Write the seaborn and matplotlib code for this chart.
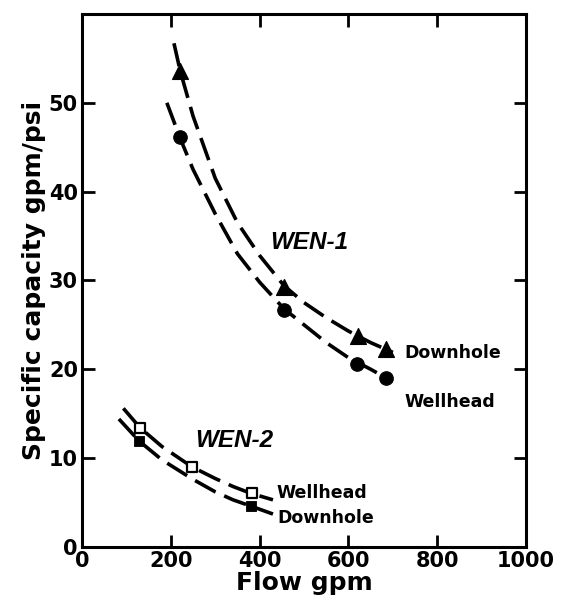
import pandas as pd
import matplotlib.pyplot as plt
import seaborn as sns

wen1_down_x = [221, 455, 622, 685]
wen1_down_y = [53.6, 29.3, 23.8, 22.3]
wen1_well_x = [221, 455, 620, 685]
wen1_well_y = [46.1, 26.7, 20.6, 19.0]
wen2_well_x = [131, 248, 382]
wen2_well_y = [13.4, 9.0, 6.1]
wen2_down_x = [129, 380]
wen2_down_y = [11.9, 4.6]

# hand-drawn fitted curves, read at several flows
c1_down_x = [207, 221, 250, 300, 350, 400, 455, 500, 550, 600, 650, 700]
c1_down_y = [56.7, 53.6, 48.5, 41.5, 36.5, 32.8, 29.4, 27.5, 25.8, 24.3, 23.0, 21.9]
c1_well_x = [191, 221, 250, 300, 350, 400, 455, 500, 550, 600, 650, 700]
c1_well_y = [50.0, 46.0, 42.5, 37.5, 33.0, 29.8, 26.8, 25.0, 23.0, 21.3, 20.0, 18.6]
c2_well_x = [93, 131, 180, 248, 300, 340, 382, 430]
c2_well_y = [15.6, 13.4, 11.3, 9.0, 7.7, 6.8, 6.0, 5.3]
c2_down_x = [83, 129, 180, 250, 300, 340, 380, 430]
c2_down_y = [14.4, 11.9, 9.8, 7.6, 6.2, 5.3, 4.6, 3.7]

sns.set_style("ticks")
plt.rcParams['font.family'] = ['DejaVu Sans']
plt.rcParams['font.weight'] = 'bold'
for k in ['text.color', 'axes.edgecolor', 'axes.labelcolor', 'xtick.color', 'ytick.color']:
    plt.rcParams[k] = 'black'

fig = plt.figure(figsize=(5.62, 6.07), dpi=100)
ax = fig.add_axes([0.146, 0.099, 0.790, 0.878])

dash = (0, (6.5, 2.6))
for cx, cy in [(c1_down_x, c1_down_y), (c1_well_x, c1_well_y),
               (c2_well_x, c2_well_y), (c2_down_x, c2_down_y)]:
    sns.lineplot(x=cx, y=cy, ax=ax, color='black', lw=2.6, linestyle=dash)

sns.scatterplot(x=wen1_down_x, y=wen1_down_y, ax=ax, marker='^', s=130,
                color='black', edgecolor='black', zorder=5)
sns.scatterplot(x=wen1_well_x, y=wen1_well_y, ax=ax, marker='o', s=95,
                color='black', edgecolor='black', zorder=5)
sns.scatterplot(x=wen2_well_x, y=wen2_well_y, ax=ax, marker='s', s=60,
                color='white', edgecolor='black', linewidth=1.6, zorder=5)
sns.scatterplot(x=wen2_down_x, y=wen2_down_y, ax=ax, marker='s', s=60,
                color='black', edgecolor='black', zorder=5)

ax.set_xlim(0, 1000)
ax.set_ylim(0, 60)
ax.set_xticks([0, 200, 400, 600, 800, 1000])
ax.set_yticks([0, 10, 20, 30, 40, 50])
ax.tick_params(direction='in', length=9, width=2, top=True, right=True,
               labelsize=15, pad=3)
for sp in ax.spines.values():
    sp.set_linewidth(2.2)

ax.set_xlabel("Flow gpm", fontsize=18, fontweight='bold', labelpad=0)
ax.set_ylabel("Specific capacity gpm/psi", fontsize=18, fontweight='bold', labelpad=2)

lab = dict(fontsize=12.5, fontweight='bold', va='center', ha='left')
ax.text(727, 21.8, "Downhole", **lab)
ax.text(727, 16.3, "Wellhead", **lab)
ax.text(439, 6.1, "Wellhead", **lab)
ax.text(439, 3.3, "Downhole", **lab)

wen = dict(fontsize=17.5, fontweight='bold', style='italic', va='center', ha='left',
           family='Liberation Sans')
ax.text(423, 34.3, "WEN-1", **wen)
ax.text(255, 12.0, "WEN-2", **wen)

fig.savefig("out.png", dpi=100)
